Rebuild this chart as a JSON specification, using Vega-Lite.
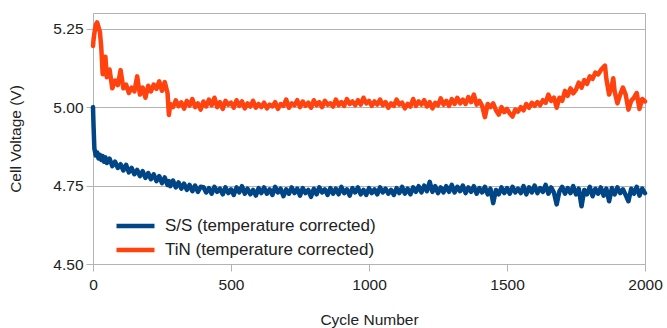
{
"$schema":"https://vega.github.io/schema/vega-lite/v6.json",
"width":552,"height":251,"autosize":"none",
"padding":{"left":93,"top":13,"right":22,"bottom":64},
"background":"white",
"config":{"view":{"stroke":"#b3b3b3","strokeWidth":1},"font":"Liberation Sans"},
"data":{"values":[
{"c":0,"a":5.000,"b":5.195},{"c":2,"a":4.940,"b":5.215},{"c":5,"a":4.868,"b":5.235},{"c":10,"a":4.846,"b":5.262},{"c":15,"a":4.856,"b":5.270},{"c":20,"a":4.836,"b":5.255},{"c":25,"a":4.848,"b":5.240},{"c":30,"a":4.832,"b":5.190},{"c":35,"a":4.844,"b":5.105},{"c":40,"a":4.826,"b":5.150},{"c":45,"a":4.840,"b":5.160},{"c":50,"a":4.822,"b":5.095},
{"c":60,"a":4.836,"b":5.120},{"c":70,"a":4.812,"b":5.060},{"c":80,"a":4.826,"b":5.085},{"c":90,"a":4.806,"b":5.070},{"c":100,"a":4.818,"b":5.118},{"c":110,"a":4.798,"b":5.060},{"c":120,"a":4.816,"b":5.072},{"c":130,"a":4.792,"b":5.045},{"c":140,"a":4.806,"b":5.062},{"c":150,"a":4.786,"b":5.050},
{"c":160,"a":4.800,"b":5.098},{"c":170,"a":4.780,"b":5.040},{"c":180,"a":4.796,"b":5.062},{"c":190,"a":4.774,"b":5.030},{"c":200,"a":4.790,"b":5.068},{"c":210,"a":4.770,"b":5.050},{"c":220,"a":4.786,"b":5.072},{"c":230,"a":4.764,"b":5.058},{"c":240,"a":4.780,"b":5.082},{"c":250,"a":4.758,"b":5.052},
{"c":260,"a":4.776,"b":5.080},{"c":270,"a":4.752,"b":5.045},{"c":275,"a":4.764,"b":4.975},{"c":280,"a":4.748,"b":5.010},{"c":290,"a":4.766,"b":5.000},{"c":300,"a":4.744,"b":5.022},{"c":310,"a":4.760,"b":5.003},{"c":320,"a":4.740,"b":5.015},{"c":330,"a":4.756,"b":4.995},{"c":340,"a":4.736,"b":5.020},
{"c":350,"a":4.752,"b":5.005},{"c":360,"a":4.732,"b":5.026},{"c":370,"a":4.750,"b":5.000},{"c":380,"a":4.730,"b":5.012},{"c":390,"a":4.746,"b":4.992},{"c":400,"a":4.745,"b":5.018},{"c":410,"a":4.728,"b":5.002},{"c":420,"a":4.742,"b":5.024},{"c":430,"a":4.724,"b":5.006},{"c":440,"a":4.746,"b":5.030},
{"c":450,"a":4.730,"b":5.000},{"c":460,"a":4.740,"b":5.016},{"c":470,"a":4.722,"b":4.994},{"c":480,"a":4.744,"b":5.020},{"c":490,"a":4.726,"b":5.008},{"c":500,"a":4.738,"b":5.014},{"c":510,"a":4.720,"b":4.998},{"c":520,"a":4.744,"b":5.022},{"c":530,"a":4.728,"b":5.004},{"c":540,"a":4.748,"b":5.018},
{"c":550,"a":4.724,"b":4.996},{"c":560,"a":4.740,"b":5.012},{"c":570,"a":4.722,"b":5.002},{"c":580,"a":4.736,"b":5.020},{"c":590,"a":4.718,"b":4.998},{"c":600,"a":4.742,"b":5.010},{"c":610,"a":4.726,"b":5.000},{"c":620,"a":4.744,"b":5.014},{"c":630,"a":4.724,"b":4.996},{"c":640,"a":4.738,"b":5.008},
{"c":650,"a":4.720,"b":5.002},{"c":660,"a":4.746,"b":5.016},{"c":670,"a":4.728,"b":4.994},{"c":680,"a":4.740,"b":5.010},{"c":690,"a":4.716,"b":5.004},{"c":700,"a":4.738,"b":5.024},{"c":710,"a":4.724,"b":4.998},{"c":720,"a":4.744,"b":5.012},{"c":730,"a":4.726,"b":5.006},{"c":740,"a":4.740,"b":5.022},
{"c":750,"a":4.718,"b":5.000},{"c":760,"a":4.742,"b":5.018},{"c":770,"a":4.726,"b":5.004},{"c":780,"a":4.736,"b":5.014},{"c":790,"a":4.714,"b":4.998},{"c":800,"a":4.740,"b":5.022},{"c":810,"a":4.722,"b":5.006},{"c":820,"a":4.744,"b":5.016},{"c":830,"a":4.728,"b":5.000},{"c":840,"a":4.738,"b":5.020},
{"c":850,"a":4.720,"b":5.008},{"c":860,"a":4.742,"b":5.012},{"c":870,"a":4.724,"b":5.002},{"c":880,"a":4.740,"b":5.024},{"c":890,"a":4.722,"b":5.006},{"c":900,"a":4.746,"b":5.016},{"c":910,"a":4.726,"b":5.004},{"c":920,"a":4.738,"b":5.026},{"c":930,"a":4.718,"b":5.010},{"c":940,"a":4.742,"b":5.018},
{"c":950,"a":4.728,"b":5.006},{"c":960,"a":4.744,"b":5.022},{"c":970,"a":4.722,"b":5.008},{"c":980,"a":4.736,"b":5.030},{"c":990,"a":4.720,"b":5.012},{"c":1000,"a":4.742,"b":5.020},{"c":1010,"a":4.726,"b":5.004},{"c":1020,"a":4.738,"b":5.018},{"c":1030,"a":4.722,"b":5.008},{"c":1040,"a":4.744,"b":5.024},
{"c":1050,"a":4.728,"b":5.006},{"c":1060,"a":4.740,"b":5.016},{"c":1070,"a":4.724,"b":4.998},{"c":1080,"a":4.736,"b":5.012},{"c":1090,"a":4.720,"b":5.004},{"c":1100,"a":4.742,"b":5.024},{"c":1110,"a":4.726,"b":5.008},{"c":1120,"a":4.746,"b":5.014},{"c":1130,"a":4.724,"b":4.996},{"c":1140,"a":4.740,"b":5.010},
{"c":1150,"a":4.722,"b":5.002},{"c":1160,"a":4.744,"b":5.026},{"c":1170,"a":4.730,"b":5.004},{"c":1180,"a":4.748,"b":5.018},{"c":1190,"a":4.728,"b":5.008},{"c":1200,"a":4.750,"b":5.022},{"c":1210,"a":4.732,"b":5.002},{"c":1220,"a":4.762,"b":5.016},{"c":1230,"a":4.730,"b":4.996},{"c":1240,"a":4.748,"b":5.014},
{"c":1250,"a":4.726,"b":5.006},{"c":1260,"a":4.744,"b":5.028},{"c":1270,"a":4.728,"b":5.008},{"c":1280,"a":4.748,"b":5.020},{"c":1290,"a":4.730,"b":5.004},{"c":1300,"a":4.752,"b":5.026},{"c":1310,"a":4.728,"b":5.010},{"c":1320,"a":4.746,"b":5.030},{"c":1330,"a":4.732,"b":5.012},{"c":1340,"a":4.750,"b":5.024},
{"c":1350,"a":4.726,"b":5.010},{"c":1360,"a":4.744,"b":5.032},{"c":1370,"a":4.730,"b":5.016},{"c":1380,"a":4.748,"b":5.040},{"c":1390,"a":4.724,"b":5.008},{"c":1400,"a":4.742,"b":5.020},{"c":1410,"a":4.728,"b":5.004},{"c":1420,"a":4.746,"b":4.968},{"c":1430,"a":4.722,"b":5.010},{"c":1440,"a":4.740,"b":5.000},
{"c":1450,"a":4.694,"b":5.012},{"c":1460,"a":4.736,"b":4.990},{"c":1470,"a":4.722,"b":4.976},{"c":1480,"a":4.744,"b":5.000},{"c":1490,"a":4.726,"b":4.984},{"c":1500,"a":4.742,"b":4.994},{"c":1510,"a":4.724,"b":4.980},{"c":1520,"a":4.746,"b":4.970},{"c":1530,"a":4.728,"b":4.992},{"c":1540,"a":4.740,"b":4.986},
{"c":1550,"a":4.726,"b":5.000},{"c":1560,"a":4.748,"b":4.990},{"c":1570,"a":4.722,"b":5.010},{"c":1580,"a":4.744,"b":4.998},{"c":1590,"a":4.728,"b":5.014},{"c":1600,"a":4.750,"b":5.004},{"c":1610,"a":4.726,"b":5.016},{"c":1620,"a":4.742,"b":5.006},{"c":1630,"a":4.730,"b":5.022},{"c":1640,"a":4.752,"b":5.014},
{"c":1650,"a":4.724,"b":5.040},{"c":1660,"a":4.744,"b":5.020},{"c":1670,"a":4.728,"b":5.030},{"c":1680,"a":4.690,"b":4.998},{"c":1690,"a":4.732,"b":5.030},{"c":1700,"a":4.746,"b":5.020},{"c":1710,"a":4.724,"b":5.052},{"c":1720,"a":4.742,"b":5.036},{"c":1730,"a":4.726,"b":5.060},{"c":1740,"a":4.748,"b":5.044},
{"c":1750,"a":4.722,"b":5.056},{"c":1760,"a":4.740,"b":5.078},{"c":1770,"a":4.684,"b":5.062},{"c":1780,"a":4.736,"b":5.086},{"c":1790,"a":4.722,"b":5.074},{"c":1800,"a":4.746,"b":5.098},{"c":1810,"a":4.716,"b":5.090},{"c":1820,"a":4.740,"b":5.110},{"c":1830,"a":4.724,"b":5.104},{"c":1840,"a":4.744,"b":5.118},
{"c":1850,"a":4.718,"b":5.128},{"c":1855,"a":4.732,"b":5.132},{"c":1860,"a":4.740,"b":5.090},{"c":1870,"a":4.700,"b":5.040},{"c":1880,"a":4.742,"b":5.070},{"c":1885,"a":4.728,"b":5.092},{"c":1890,"a":4.722,"b":5.050},{"c":1900,"a":4.744,"b":5.012},{"c":1910,"a":4.726,"b":5.040},{"c":1920,"a":4.738,"b":5.062},
{"c":1930,"a":4.720,"b":5.040},{"c":1940,"a":4.700,"b":4.992},{"c":1950,"a":4.740,"b":5.020},{"c":1960,"a":4.724,"b":5.030},{"c":1970,"a":4.746,"b":5.045},{"c":1980,"a":4.718,"b":4.994},{"c":1990,"a":4.740,"b":5.026},{"c":2000,"a":4.726,"b":5.018}
]},
"transform":[{"fold":["a","b"],"as":["s","v"]},{"filter":"isValid(datum.v)"}],
"mark":{"type":"line","strokeWidth":4.5,"strokeJoin":"round","strokeCap":"round"},
"encoding":{
"x":{"field":"c","type":"quantitative","scale":{"domain":[0,2000],"nice":false},
"axis":{"values":[0,500,1000,1500,2000],"format":"d","title":"Cycle Number","grid":false,"domainColor":"#b3b3b3","tickColor":"#b3b3b3","tickSize":7,"labelFontSize":15.5,"titleFontSize":15.5,"labelColor":"#222","titleColor":"#222","titleFontWeight":"normal","labelPadding":6,"titlePadding":20,"labelFlush":false}},
"y":{"field":"v","type":"quantitative","scale":{"domain":[4.5,5.3],"nice":false,"zero":false},
"axis":{"values":[4.5,4.75,5,5.25],"format":".2f","title":"Cell Voltage (V)","gridColor":"#b3b3b3","domainColor":"#b3b3b3","tickColor":"#b3b3b3","tickSize":7,"labelFontSize":15.5,"titleFontSize":15.5,"labelColor":"#222","titleColor":"#222","titleFontWeight":"normal","labelPadding":3,"titlePadding":29}},
"color":{"field":"s","type":"nominal","scale":{"domain":["a","b"],"range":["#004586","#ff420e"]},
"legend":{"orient":"none","legendX":30.5,"legendY":201,"title":null,"symbolType":"M-2,0L2,0","symbolSize":361,"symbolStrokeWidth":4.5,"labelFontSize":17,"labelColor":"#222","labelOffset":17.5,"labelLimit":0,"rowPadding":3,"labelExpr":"datum.value == 'a' ? 'S/S (temperature corrected)' : 'TiN (temperature corrected)'"}}
}
}
